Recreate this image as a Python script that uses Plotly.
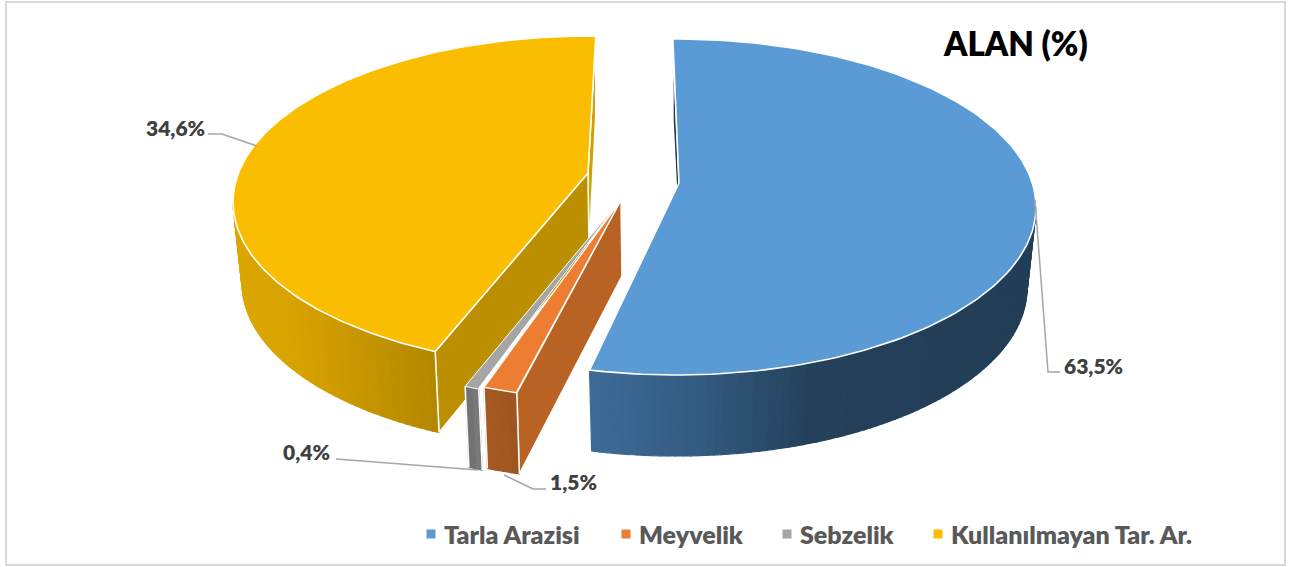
import numpy as np
import plotly.graph_objects as go

# ---------- data ----------
CATEGORIES = ["Tarla Arazisi", "Meyvelik", "Sebzelik", "Kullanılmayan Tar. Ar."]
LABEL_VALUES = [63.5, 1.5, 0.4, 34.6]          # printed percentages
DRAWN_SHARES = [54.0, 1.556, 0.667, 43.12]     # share of the circle as actually drawn in the picture
TITLE = "ALAN (%)"

# ---------- styles ----------
TOP_COLORS = ["#5b9bd5", "#ed7d31", "#a5a5a5", "#fbbd00"]
WALL_STOPS = [
    [(0.0, "#3d6c98"), (0.25, "#335a80"), (0.5, "#24405a"), (1.0, "#223e57")],
    [(0.0, "#a65a22"), (1.0, "#9c5520")],
    [(0.0, "#6f6f6f"), (1.0, "#7d7d7d")],
    [(0.0, "#dca600"), (0.3, "#d8a200"), (1.0, "#b28700")],
]
START_FACE_COLORS = ["#1f3b53", "#b86224", None, "#bc8f00"]
END_FACE_COLORS = [None, None, None, "#d2a000"]
TOP_OUTLINES = [1.6, 1.3, 1.0, 1.6]
LABEL_COLOR = "#404040"
LEGEND_COLOR = "#595959"
LEADER_COLOR = "#a6a6a6"
FONT = "Lato, Carlito, sans-serif"

# ---------- layout of the projected pie (pixel axes) ----------
ANGLE_ORIGIN = -0.5
ANGLE_GAPS = [0, 2.9, 0.2, 0.7]
CENTERS = [(676, 207), (620, 233), (616, 235), (590, 202)]
APEX_OFFSETS = [(3, -24), (1, -33), (2, -32), (-2, -29)]
RX, RY = [360, 357, 357, 357], [168, 167, 167, 166]
DEPTH, APEX_DEPTH = 81, 76
BOTTOM_RX_SHRINK = 9
DRAW_ORDER = [3, 2, 1, 0]

LABEL_POS = [(1062, 365), (548, 481), (281, 451), (144, 127)]
LEADERS = [
    [(1035, 200), (1048, 372), (1060, 372)],
    [(504, 475), (533, 489), (546, 489)],
    [(336, 459), (478, 470)],
    [(257, 146), (222, 134), (208, 134)],
]
LEGEND_MARK_X = [431, 626, 787, 938]
LEGEND_TEXT_GAP = 11
LEGEND_Y = 534


def hex2rgb(h):
    return np.array([int(h[i:i + 2], 16) for i in (1, 3, 5)], dtype=float)


def stop_color(stops, t):
    xs = [s[0] for s in stops]
    rgb = [np.interp(t, xs, [hex2rgb(s[1])[k] for s in stops]) for k in range(3)]
    return "rgb({:.0f},{:.0f},{:.0f})".format(*rgb)


def top_pt(i, deg):
    a = np.radians(deg)
    return CENTERS[i][0] + RX[i] * np.sin(a), CENTERS[i][1] - RY[i] * np.cos(a)


def bot_pt(i, deg):
    a = np.radians(deg)
    return (CENTERS[i][0] + (RX[i] - BOTTOM_RX_SHRINK) * np.sin(a),
            CENTERS[i][1] + DEPTH - RY[i] * np.cos(a))


def poly(xs, ys, color, line_color=None, line_width=0.0):
    return go.Scatter(x=list(xs) + [xs[0]], y=list(ys) + [ys[0]], mode="lines",
                      fill="toself", fillcolor=color,
                      line=dict(color=line_color or color, width=line_width or 1.2),
                      hoverinfo="skip", showlegend=False)


# angular spans follow from the drawn shares
spans = []
cursor = ANGLE_ORIGIN
for share, gap in zip(DRAWN_SHARES, ANGLE_GAPS):
    cursor += gap
    spans.append((cursor, cursor + share * 3.6))
    cursor += share * 3.6

fig = go.Figure()

for i in DRAW_ORDER:
    a0, a1 = spans[i]
    ax = CENTERS[i][0] + APEX_OFFSETS[i][0]
    ay = CENTERS[i][1] + APEX_OFFSETS[i][1]

    # inner faces
    for deg, col in ((a1, END_FACE_COLORS[i]), (a0, START_FACE_COLORS[i])):
        if col is None:
            continue
        tx, ty = top_pt(i, deg)
        bx, by = bot_pt(i, deg)
        fig.add_trace(poly([ax, tx, bx, ax + 1], [ay, ty, by, ay + APEX_DEPTH], col, "white", 1.5))

    # outer wall, only its front half, shaded in strips
    w0, w1 = max(a0, 90), min(a1, 270)
    if w1 > w0:
        n = max(2, int((w1 - w0) / 1.25))
        edges = np.linspace(w0, w1, n + 1)
        xr = [top_pt(i, d)[0] for d in edges]
        xmin, xmax = min(xr), max(xr)
        for d0, d1 in zip(edges[:-1], edges[1:]):
            p = [top_pt(i, d0), top_pt(i, d1), bot_pt(i, d1), bot_pt(i, d0)]
            t = (top_pt(i, (d0 + d1) / 2)[0] - xmin) / (xmax - xmin)
            c = stop_color(WALL_STOPS[i], t)
            fig.add_trace(poly([q[0] for q in p], [q[1] for q in p], c))
        # white separators on the wall's straight edges
        for d in (w0, w1):
            if d in (a0, a1) and not (i == 0 and d == a1):
                pa, pb = top_pt(i, d), bot_pt(i, d)
                fig.add_trace(go.Scatter(x=[pa[0], pb[0]], y=[pa[1], pb[1]], mode="lines",
                                         line=dict(color="white", width=1.5),
                                         hoverinfo="skip", showlegend=False))

    # top face
    degs = np.linspace(a0, a1, 160)
    rim = [top_pt(i, d) for d in degs]
    fig.add_trace(poly([ax] + [q[0] for q in rim], [ay] + [q[1] for q in rim],
                       TOP_COLORS[i], "white", TOP_OUTLINES[i]))

# leader lines
for pts in LEADERS:
    fig.add_trace(go.Scatter(x=[p[0] for p in pts], y=[p[1] for p in pts], mode="lines",
                             line=dict(color=LEADER_COLOR, width=1.5),
                             hoverinfo="skip", showlegend=False))

# legend markers
for name, col, mx in zip(CATEGORIES, TOP_COLORS, LEGEND_MARK_X):
    fig.add_trace(go.Scatter(x=[mx], y=[LEGEND_Y], mode="markers", name=name,
                             marker=dict(symbol="square", size=9, color=col),
                             hoverinfo="name", showlegend=False))

annotations = []
for v, (x, y) in zip(LABEL_VALUES, LABEL_POS):
    annotations.append(dict(x=x, y=y, text=f"{v:.1f}%".replace(".", ","), showarrow=False,
                            xanchor="left", yanchor="middle",
                            font=dict(family=FONT, size=21, color=LABEL_COLOR, weight=800)))
for name, mx in zip(CATEGORIES, LEGEND_MARK_X):
    annotations.append(dict(x=mx + LEGEND_TEXT_GAP, y=LEGEND_Y, text=name, showarrow=False,
                            xanchor="left", yanchor="middle",
                            font=dict(family=FONT, size=25, color=LEGEND_COLOR, weight=800)))
annotations.append(dict(x=941, y=43, text=TITLE, showarrow=False, xanchor="left", yanchor="middle",
                        font=dict(family=FONT, size=33, color="#000000", weight=800)))

fig.update_layout(
    width=1289, height=567, margin=dict(l=0, r=0, t=0, b=0),
    paper_bgcolor="white", plot_bgcolor="white", showlegend=False,
    xaxis=dict(range=[0, 1289], visible=False, fixedrange=True),
    yaxis=dict(range=[567, 0], visible=False, fixedrange=True),
    annotations=annotations,
    shapes=[dict(type="rect", xref="x", yref="y", x0=6, y0=2, x1=1285, y1=565,
                 line=dict(color="#d9d9d9", width=2), fillcolor="rgba(0,0,0,0)", layer="below")],
)
fig.write_html("out.html", config={"displayModeBar": False},
               post_script="document.body.style.margin='0';document.body.style.overflow='hidden';")
